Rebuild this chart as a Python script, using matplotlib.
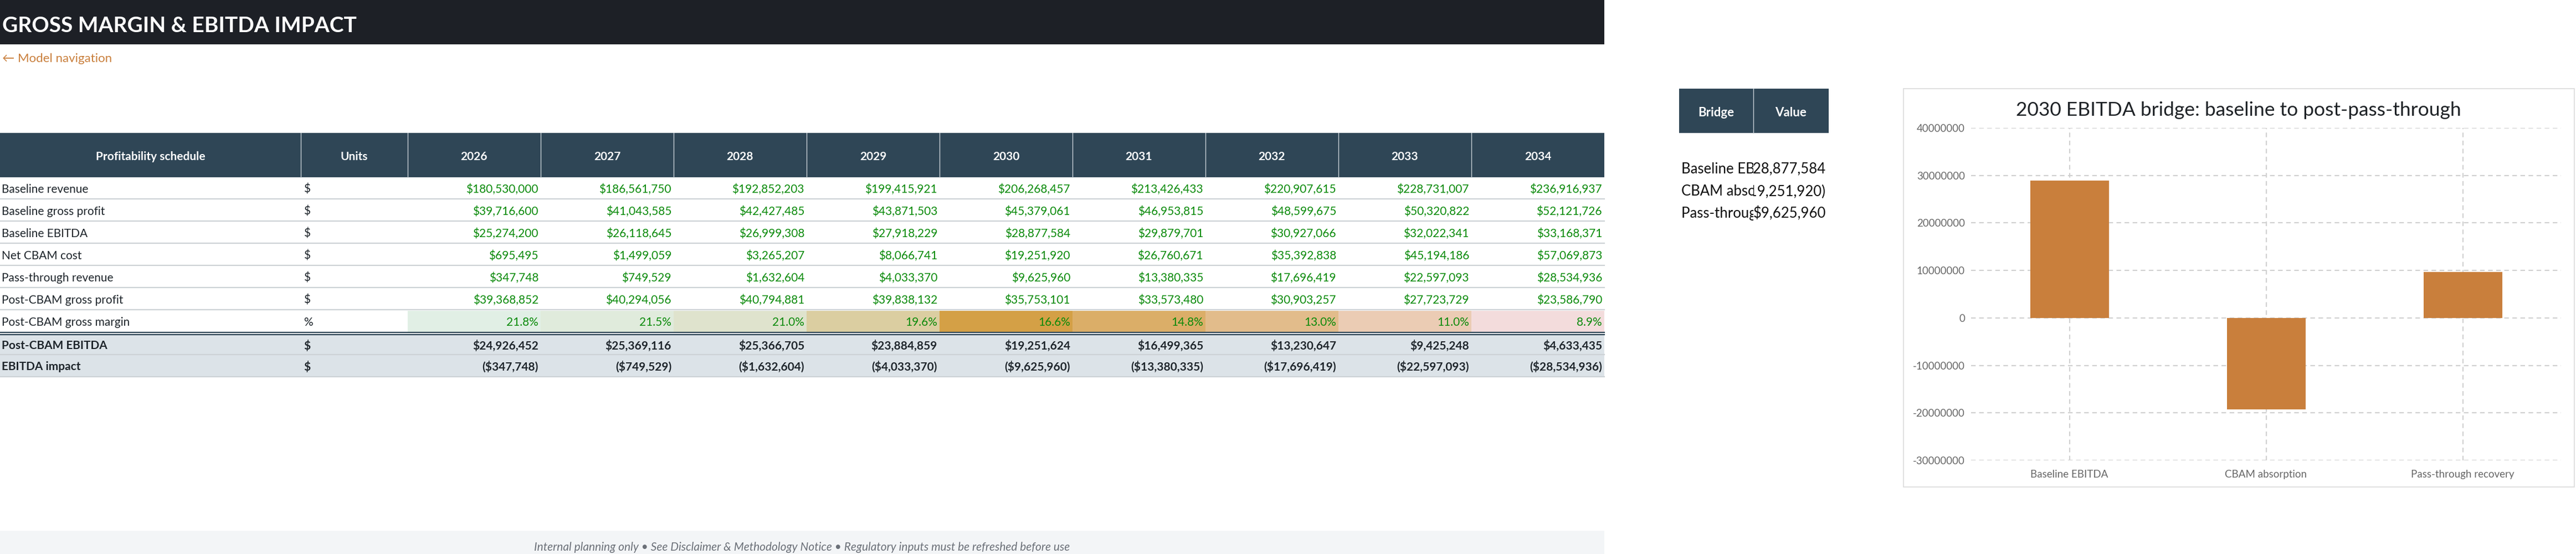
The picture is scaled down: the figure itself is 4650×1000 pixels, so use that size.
"""Gross margin & EBITDA impact sheet: profitability schedule plus 2030 bridge chart."""

import matplotlib

matplotlib.use("Agg")
import matplotlib.pyplot as plt  # noqa: E402
from matplotlib.colors import LinearSegmentedColormap, TwoSlopeNorm  # noqa: E402
from matplotlib.patches import Rectangle  # noqa: E402
from matplotlib.ticker import FuncFormatter, MultipleLocator  # noqa: E402
from matplotlib.transforms import Bbox, TransformedBbox  # noqa: E402
import numpy as np  # noqa: E402

plt.rcParams["font.family"] = ["Lato", "DejaVu Sans"]

# ---- data -------------------------------------------------------------------
years = [2026, 2027, 2028, 2029, 2030, 2031, 2032, 2033, 2034]

baseline_revenue = [180530000, 186561750, 192852203, 199415921, 206268457,
                    213426433, 220907615, 228731007, 236916937]
baseline_gross_profit = [39716600, 41043585, 42427485, 43871503, 45379061,
                         46953815, 48599675, 50320822, 52121726]
baseline_ebitda = [25274200, 26118645, 26999308, 27918229, 28877584,
                   29879701, 30927066, 32022341, 33168371]
net_cbam_cost = [695495, 1499059, 3265207, 8066741, 19251920,
                 26760671, 35392838, 45194186, 57069873]
pass_through_revenue = [347748, 749529, 1632604, 4033370, 9625960,
                        13380335, 17696419, 22597093, 28534936]
post_cbam_gross_profit = [39368852, 40294056, 40794881, 39838132, 35753101,
                          33573480, 30903257, 27723729, 23586790]
post_cbam_gross_margin = [21.8, 21.5, 21.0, 19.6, 16.6, 14.8, 13.0, 11.0, 8.9]
post_cbam_ebitda = [24926452, 25369116, 25366705, 23884859, 19251624,
                    16499365, 13230647, 9425248, 4633435]
ebitda_impact = [-347748, -749529, -1632604, -4033370, -9625960,
                 -13380335, -17696419, -22597093, -28534936]

money_rows = [
    ("Baseline revenue", "$", baseline_revenue),
    ("Baseline gross profit", "$", baseline_gross_profit),
    ("Baseline EBITDA", "$", baseline_ebitda),
    ("Net CBAM cost", "$", net_cbam_cost),
    ("Pass-through revenue", "$", pass_through_revenue),
    ("Post-CBAM gross profit", "$", post_cbam_gross_profit),
]
margin_label = ("Post-CBAM gross margin", "%")
total_rows = [
    ("Post-CBAM EBITDA", "$", post_cbam_ebitda),
    ("EBITDA impact", "$", ebitda_impact),
]

bridge_labels = ["Baseline EBITDA", "CBAM absorption", "Pass-through recovery"]
bridge_values = [28877584, -19251920, 9625960]

# ---- style ------------------------------------------------------------------
W, H = 4650, 1000
NAVY = "#2F4656"
GREEN = "#0A8A0A"
DARK = "#1E252B"
RULE = "#CDD2D6"
ORANGE = "#C97F3C"
TABLE_RIGHT = 2896
COL_EDGES = [0, 543, 736] + [736 + 240 * (i + 1) for i in range(len(years))]
ROW_H = 40
BODY_FS = 15


def money(v):
    return f"(${-v:,.0f})" if v < 0 else f"${v:,.0f}"


fig = plt.figure(figsize=(W / 100, H / 100), dpi=100)
canvas = fig.add_axes([0, 0, 1, 1])
canvas.set_xlim(0, W)
canvas.set_ylim(H, 0)
canvas.axis("off")

# title bar and navigation link
canvas.add_patch(Rectangle((0, 0), TABLE_RIGHT, 80, color="#1D2026", lw=0))
canvas.text(4, 58, "GROSS MARGIN & EBITDA IMPACT", color="white", fontsize=28,
            fontweight="bold", va="baseline")
canvas.text(4, 112, "\u2190 Model navigation", color=ORANGE, fontsize=16, va="baseline")

# table header
canvas.add_patch(Rectangle((0, 240), TABLE_RIGHT, 80, color=NAVY, lw=0))
headers = ["Profitability schedule", "Units"] + [str(y) for y in years]
for i, head in enumerate(headers):
    cx = (COL_EDGES[i] + COL_EDGES[i + 1]) / 2
    canvas.text(cx, 281, head, color="white", fontsize=BODY_FS, fontweight="bold",
                ha="center", va="center_baseline")
    if i > 0:
        canvas.plot([COL_EDGES[i]] * 2, [240, 320], color="#C9D1D7", lw=1)


def draw_row(top, label, unit, cells, color, bold=False, height=ROW_H):
    cy = top + height / 2
    weight = "bold" if bold else "normal"
    canvas.text(3, cy, label, color=DARK, fontsize=BODY_FS, fontweight=weight,
                va="center_baseline")
    canvas.text(COL_EDGES[1] + 5, cy, unit, color=DARK, fontsize=BODY_FS,
                fontweight=weight, va="center_baseline")
    for j, txt in enumerate(cells):
        canvas.text(COL_EDGES[j + 3] - 4, cy, txt, color=color, fontsize=BODY_FS,
                    fontweight=weight, ha="right", va="center_baseline")


top = 320
for label, unit, vals in money_rows:
    draw_row(top, label, unit, [money(v) for v in vals], GREEN)
    canvas.plot([0, TABLE_RIGHT], [top + ROW_H - 1, top + ROW_H - 1], color=RULE, lw=1.6)
    top += ROW_H

# gross margin row with 3-colour scale (min / median / max)
scale = LinearSegmentedColormap.from_list("margin", ["#F3DCDC", "#D4A045", "#E1EFE5"])
norm = TwoSlopeNorm(vmin=min(post_cbam_gross_margin),
                    vcenter=float(np.median(post_cbam_gross_margin)),
                    vmax=max(post_cbam_gross_margin))
for j, v in enumerate(post_cbam_gross_margin):
    canvas.add_patch(Rectangle((COL_EDGES[j + 2], top + 1), 240, ROW_H - 2,
                               color=scale(norm(v)), lw=0))
draw_row(top, margin_label[0], margin_label[1],
         [f"{v:.1f}%" for v in post_cbam_gross_margin], GREEN)
top += ROW_H
canvas.plot([0, TABLE_RIGHT], [top - 0.5, top - 0.5], color=NAVY, lw=1.6)
canvas.plot([0, TABLE_RIGHT], [top + 4, top + 4], color=NAVY, lw=1.6)

# totals block
canvas.add_patch(Rectangle((0, top + 5), TABLE_RIGHT, 75, color="#DCE3E8", lw=0))
draw_row(top + 5, *total_rows[0][:2], [money(v) for v in total_rows[0][2]], DARK,
         bold=True, height=34)
canvas.plot([0, TABLE_RIGHT], [top + 40, top + 40], color=RULE, lw=1.6)
draw_row(top + 41, *total_rows[1][:2], [money(v) for v in total_rows[1][2]], DARK,
         bold=True, height=38)
canvas.plot([0, TABLE_RIGHT], [top + 80, top + 80], color=RULE, lw=1.6)

# footer
canvas.add_patch(Rectangle((0, 958), TABLE_RIGHT, 42, color="#F3F5F7", lw=0))
canvas.text(TABLE_RIGHT / 2, 986,
            "Internal planning only \u2022 See Disclaimer & Methodology Notice "
            "\u2022 Regulatory inputs must be refreshed before use",
            color="#6B7078", fontsize=15, style="italic", ha="center",
            va="center_baseline")

# bridge table (cells clip their text like a spreadsheet)
BX0, BXM, BX1 = 3031, 3165, 3301
canvas.add_patch(Rectangle((BX0, 160), BX1 - BX0, 80, color=NAVY, lw=0))
canvas.plot([BXM, BXM], [160, 240], color="#C9D1D7", lw=1)
canvas.text((BX0 + BXM) / 2, 201, "Bridge", color="white", fontsize=16,
            fontweight="bold", ha="center", va="center_baseline")
canvas.text((BXM + BX1) / 2, 201, "Value", color="white", fontsize=16,
            fontweight="bold", ha="center", va="center_baseline")
for k, (label, val) in enumerate(zip(bridge_labels, bridge_values)):
    cy = 303 + 40 * k
    lab = canvas.text(BX0 + 4, cy, label, color="#111111", fontsize=18.5,
                      va="center_baseline", clip_on=True)
    lab.set_clip_box(TransformedBbox(Bbox([[BX0, cy - 20], [BXM, cy + 20]]),
                                     canvas.transData))
    num = canvas.text(BX1 - 5, cy, money(val), color="#111111", fontsize=18.5,
                      ha="right", va="center_baseline", clip_on=True)
    num.set_clip_box(TransformedBbox(Bbox([[BXM, cy - 20], [BX1, cy + 20]]),
                                     canvas.transData))

# bridge chart
canvas.add_patch(Rectangle((3436, 160), 1211, 719, fill=False, edgecolor="#DADADA", lw=1.2))
canvas.text(4041, 196, "2030 EBITDA bridge: baseline to post-pass-through",
            color="#1E2226", fontsize=25.5, ha="center", va="center_baseline")

ax = fig.add_axes([3558 / W, (H - 831) / H, (4623 - 3558) / W, (831 - 231) / H])
ax.patch.set_alpha(0)
ax.bar(range(len(bridge_values)), bridge_values, width=0.4, color=ORANGE)
ax.set_xlim(-0.5, len(bridge_values) - 0.5)
ax.set_ylim(-30000000, 40000000)
ax.yaxis.set_major_locator(MultipleLocator(10000000))
ax.yaxis.set_major_formatter(FuncFormatter(lambda v, _: f"{int(round(v))}"))
ax.set_xticks(range(len(bridge_labels)))
ax.set_xticklabels(bridge_labels)
ax.tick_params(length=0, labelsize=13.5, labelcolor="#666666")
ax.tick_params(axis="y", pad=8)
ax.tick_params(axis="x", pad=12)
ax.set_axisbelow(True)
ax.grid(True, color="#D0D0D0", lw=1.5, linestyle=(0, (4, 3)))
for spine in ax.spines.values():
    spine.set_visible(False)

fig.savefig("out.png", dpi=100)
